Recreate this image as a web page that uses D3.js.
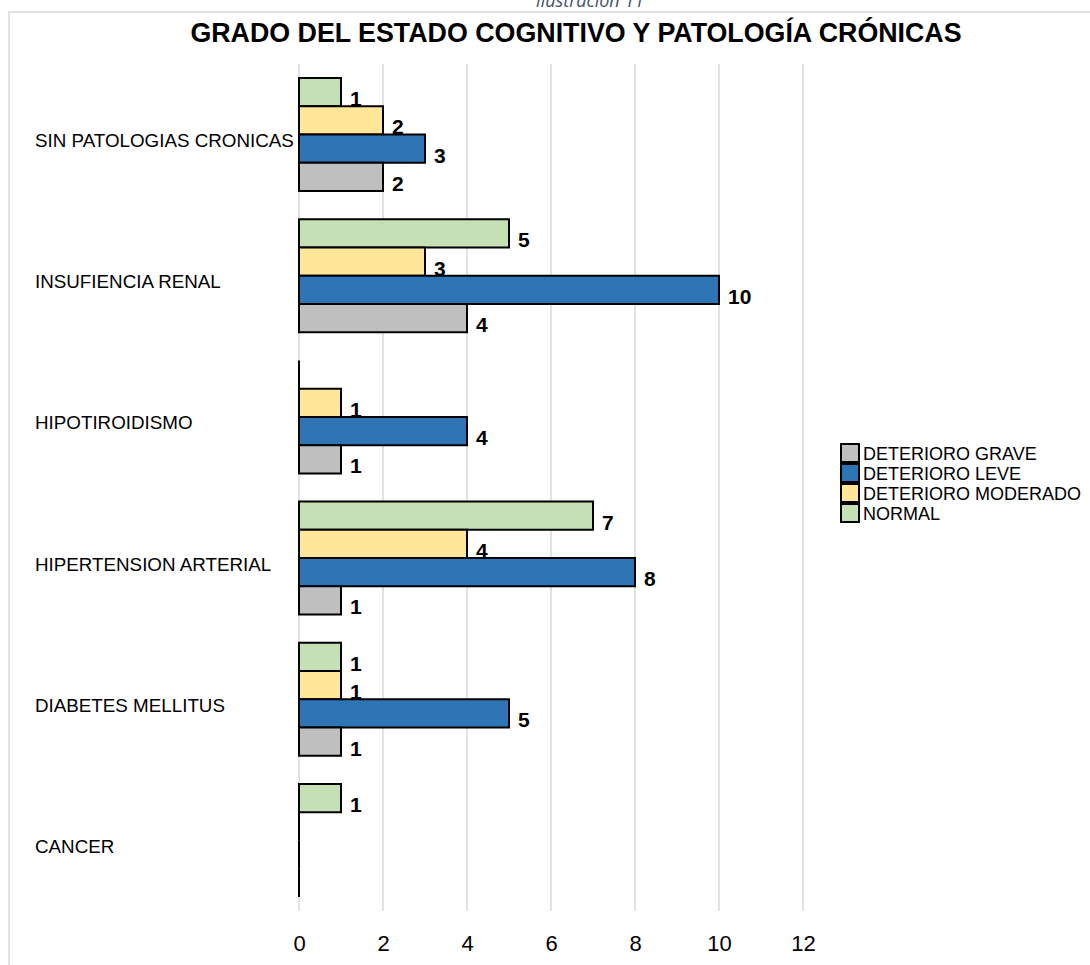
<!DOCTYPE html>
<html>
<head>
    <meta charset="utf-8">
    <title>Grado del estado cognitivo</title>
    <script src="https://d3js.org/d3.v7.min.js"></script>
    <style>
        body { margin: 0; background: #fff; }
        text { font-family: "Liberation Sans", Arial, sans-serif; }
    </style>
</head>
<body>
    <svg width="1090" height="965"></svg>

    <script>
        // categories top to bottom
        const categories = ["SIN PATOLOGIAS CRONICAS", "INSUFIENCIA RENAL", "HIPOTIROIDISMO",
                            "HIPERTENSION ARTERIAL", "DIABETES MELLITUS", "CANCER"];
        const grave    = [2, 4, 1, 1, 1, 0];
        const leve     = [3, 10, 4, 8, 5, 0];
        const moderado = [2, 3, 1, 4, 1, 0];
        const normal   = [1, 5, 0, 7, 1, 1];
        const xTicks = [0, 2, 4, 6, 8, 10, 12];

        // drawing order inside a group, top to bottom
        const series = [
            { name: "NORMAL", values: normal, color: "#c5e0b4" },
            { name: "DETERIORO MODERADO", values: moderado, color: "#ffe699" },
            { name: "DETERIORO LEVE", values: leve, color: "#2e75b6" },
            { name: "DETERIORO GRAVE", values: grave, color: "#bfbfbf" }
        ];
        const legendOrder = ["DETERIORO GRAVE", "DETERIORO LEVE", "DETERIORO MODERADO", "NORMAL"];

        const svg = d3.select("svg");

        // chart border + caption
        svg.append("rect")
            .attr("x", 9).attr("y", 12)
            .attr("width", 1200).attr("height", 1200)
            .attr("fill", "none")
            .attr("stroke", "#d9d9d9")
            .attr("stroke-width", 1.5);

        svg.append("text")
            .attr("x", 590).attr("y", 7)
            .attr("text-anchor", "middle")
            .attr("font-size", 18)
            .attr("font-style", "italic")
            .attr("fill", "#44546a")
            .style("font-family", "'Open Sans', sans-serif")
            .text("Ilustración 11");

        svg.append("text")
            .attr("x", 576).attr("y", 42)
            .attr("text-anchor", "middle")
            .attr("font-size", 26.8)
            .attr("font-weight", "bold")
            .attr("fill", "#000")
            .text("GRADO DEL ESTADO COGNITIVO Y PATOLOGÍA CRÓNICAS");

        const x = d3.scaleLinear().domain([0, 12]).range([299, 803]);
        const y = d3.scaleBand().domain(categories).range([64, 911])
            .paddingInner(0.2).paddingOuter(0.1);
        const ySub = d3.scaleBand().domain(series.map(s => s.name)).range([0, y.bandwidth()]);

        // gridlines
        svg.append("g")
            .selectAll("line")
            .data(xTicks)
            .join("line")
            .attr("x1", d => x(d)).attr("x2", d => x(d))
            .attr("y1", 64).attr("y2", 911)
            .attr("stroke", "#d9d9d9")
            .attr("stroke-width", 1.5);

        // x axis labels
        const xAxis = d3.axisBottom(x).tickValues(xTicks).tickSize(0).tickPadding(0);
        const xg = svg.append("g").attr("transform", "translate(0,935)").call(xAxis);
        xg.select(".domain").remove();
        xg.selectAll("text")
            .attr("font-size", 22)
            .attr("fill", "#000")
            .style("font-family", "'Liberation Sans', Arial, sans-serif")
            .attr("dy", "0.71em")
            .attr("y", 0);

        // category labels
        svg.append("g")
            .selectAll("text")
            .data(categories)
            .join("text")
            .attr("x", 35)
            .attr("y", d => y(d) + y.bandwidth() / 2 + 12.5)
            .attr("font-size", 18.8)
            .attr("fill", "#000")
            .text(d => d);

        // bars (paths so zero-width bars still show their outline)
        const bars = [];
        series.forEach(s => {
            categories.forEach((c, i) => {
                bars.push({ cat: c, name: s.name, value: s.values[i], color: s.color });
            });
        });

        svg.append("g")
            .selectAll("path")
            .data(bars)
            .join("path")
            .attr("d", d => {
                const y0 = y(d.cat) + ySub(d.name);
                const h = ySub.bandwidth();
                const w = x(d.value) - x(0);
                return `M${x(0)},${y0}h${w}v${h}h${-w}Z`;
            })
            .attr("fill", d => d.color)
            .attr("stroke", "#000")
            .attr("stroke-width", 2);

        svg.append("g")
            .selectAll("text")
            .data(bars.filter(d => d.value > 0))
            .join("text")
            .attr("x", d => x(d.value) + 9)
            .attr("y", d => y(d.cat) + ySub(d.name) + ySub.bandwidth() / 2 + 14)
            .attr("font-size", 21)
            .attr("font-weight", "bold")
            .attr("fill", "#000")
            .text(d => d.value);

        // legend
        const legend = svg.append("g")
            .selectAll("g")
            .data(legendOrder)
            .join("g")
            .attr("transform", (d, i) => `translate(841,${444 + i * 20})`);

        legend.append("rect")
            .attr("width", 18).attr("height", 18)
            .attr("fill", d => series.find(s => s.name === d).color)
            .attr("stroke", "#000")
            .attr("stroke-width", 2);

        legend.append("text")
            .attr("x", 22).attr("y", 16)
            .attr("font-size", 18)
            .attr("fill", "#000")
            .text(d => d);
    </script>
</body>
</html>
